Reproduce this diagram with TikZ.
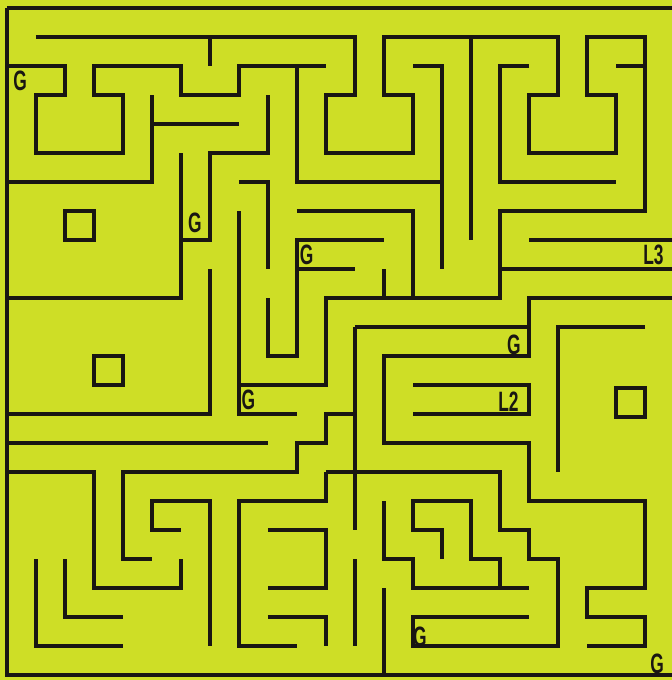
\documentclass[tikz,border=0pt]{standalone}
\usepackage{fontspec}
\setmainfont{Liberation Sans}
\usetikzlibrary{positioning}
\definecolor{mazebg}{RGB}{206,222,38}
\definecolor{ink}{RGB}{25,22,18}

\begin{document}
\begin{tikzpicture}[x=8mm,y=-8mm,
  wall/.style={draw=ink,line width=2.6pt,line join=miter},
  tag/.style={font=\bfseries\fontsize{22}{22}\selectfont,text=ink,inner sep=0pt,xscale=0.62}]
\fill[mazebg] (-0.241,-0.276) rectangle (22.931,23.172);
\useasboundingbox (-0.241,-0.276) rectangle (22.931,23.172);
% frame
\draw[wall] (0,0) -- (23,0);
\draw[wall] (0,0) -- (0,23) -- (23,23);
% upper part
\draw[wall] (1,1) -- (12,1) -- (12,3) -- (11,3) -- (11,5) -- (14,5) -- (14,3) -- (13,3) -- (13,1) -- (19,1) -- (19,3) -- (18,3) -- (18,5) -- (21,5) -- (21,3) -- (20,3) -- (20,1) -- (22,1) -- (22,7) -- (17,7) -- (17,10) -- (11,10) -- (11,13) -- (8,13);
\draw[wall] (0,2) -- (2,2) -- (2,3) -- (1,3) -- (1,5) -- (4,5) -- (4,3) -- (3,3) -- (3,2) -- (6,2) -- (6,3) -- (8,3) -- (8,2) -- (11,2);
\draw[wall] (7,1) -- (7,2);
\draw[wall] (5,3) -- (5,6) -- (0,6);
\draw[wall] (5,4) -- (8,4);
\draw[wall] (9,3) -- (9,5) -- (7,5) -- (7,8) -- (6,8);
\draw[wall] (6,5) -- (6,10) -- (0,10);
\draw[wall] (10,2) -- (10,6) -- (15,6);
\draw[wall] (14,2) -- (15,2) -- (15,9);
\draw[wall] (16,1) -- (16,8);
\draw[wall] (18,2) -- (17,2) -- (17,6) -- (21,6);
\draw[wall] (21,2) -- (22,2);
% middle
\draw[wall] (8,6) -- (9,6) -- (9,9);
\draw[wall] (9,10) -- (9,12) -- (10,12) -- (10,8) -- (13,8);
\draw[wall] (10,9) -- (12,9);
\draw[wall] (13,9) -- (13,10);
\draw[wall] (10,7) -- (14,7) -- (14,10);
\draw[wall] (8,7) -- (8,14) -- (10,14);
\draw[wall] (7,9) -- (7,14) -- (0,14);
\draw[wall] (0,15) -- (9,15);
\draw[wall] (18,8) -- (23,8);
\draw[wall] (17,9) -- (23,9);
\draw[wall] (23,10) -- (18,10) -- (18,12) -- (13,12) -- (13,15) -- (18,15) -- (18,17) -- (22,17) -- (22,20) -- (20,20) -- (20,21) -- (22,21) -- (22,22) -- (20,22);
\draw[wall] (12,11) -- (18,11);
\draw[wall] (12,11) -- (12,18);
\draw[wall] (12,19) -- (12,22);
\draw[wall] (14,13) -- (18,13) -- (18,14) -- (14,14);
\draw[wall] (22,11) -- (19,11) -- (19,16);
% lower part
\draw[wall] (12,14) -- (11,14) -- (11,15) -- (10,15) -- (10,16) -- (4,16) -- (4,19) -- (5,19);
\draw[wall] (0,16) -- (3,16) -- (3,20) -- (6,20) -- (6,19);
\draw[wall] (6,18) -- (5,18) -- (5,17) -- (7,17) -- (7,22);
\draw[wall] (1,19) -- (1,22) -- (4,22);
\draw[wall] (2,19) -- (2,21) -- (4,21);
\draw[wall] (11,16) -- (17,16) -- (17,18) -- (18,18) -- (18,19) -- (19,19) -- (19,22) -- (14,22) -- (14,21) -- (18,21);
\draw[wall] (11,16) -- (11,17) -- (8,17) -- (8,22) -- (10,22);
\draw[wall] (9,18) -- (11,18) -- (11,20) -- (9,20);
\draw[wall] (9,21) -- (11,21) -- (11,22);
\draw[wall] (15,19) -- (15,18) -- (14,18) -- (14,17) -- (16,17) -- (16,19) -- (17,19) -- (17,20);
\draw[wall] (13,17) -- (13,19) -- (14,19) -- (14,20) -- (18,20);
\draw[wall] (13,20) -- (13,23);
% small boxes
\draw[wall] (2,7) rectangle (3,8);
\draw[wall] (3,12) rectangle (4,13);
\draw[wall] (21,13.1) rectangle (22,14.1);
% labels
\node[tag] (g1) at (0.45,2.5) {G};
\node[tag] (g2) at (6.48,7.4) {G};
\node[tag] (g3) at (10.33,8.52) {G};
\node[tag] (g4) at (8.32,13.5) {G};
\node[tag] (g5) at (17.48,11.6) {G};
\node[tag] (g6) at (14.24,21.68) {G};
\node[tag] (g7) at (22.42,22.6) {G};
\node[tag] (l2) at (17.29,13.58) {L2};
\node[tag] (l3) at (22.29,8.52) {L3};
\end{tikzpicture}
\end{document}
